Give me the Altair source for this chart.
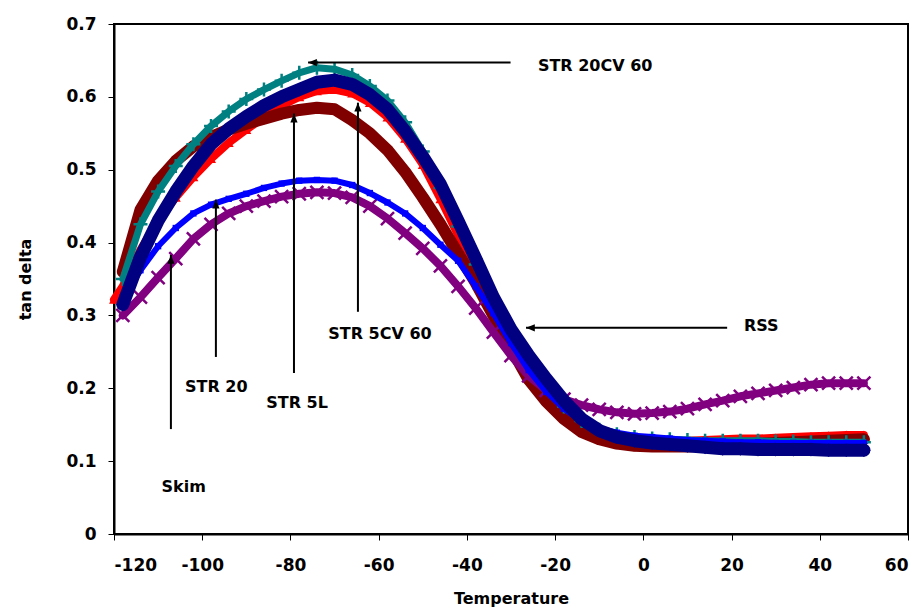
import altair as alt
import pandas as pd

# ---------------- data ----------------
temps = [-120, -118, -114, -110, -106, -102, -98, -94, -90, -86, -82, -78, -74, -70,
         -66, -62, -58, -54, -50, -46, -42, -38, -34, -30, -26, -22, -18, -14, -10,
         -6, -2, 2, 6, 10, 14, 18, 22, 26, 30, 34, 38, 42, 46, 50]

str_5cv_60 = [0.322, 0.34, 0.39, 0.43, 0.462, 0.49, 0.515, 0.537, 0.555, 0.572, 0.588, 0.6, 0.608, 0.61,
              0.605, 0.592, 0.572, 0.543, 0.507, 0.46, 0.41, 0.36, 0.31, 0.265, 0.23, 0.2, 0.173, 0.153, 0.141,
              0.134, 0.13, 0.128, 0.128, 0.128, 0.129, 0.13, 0.131, 0.131, 0.132, 0.133, 0.134, 0.135, 0.136, 0.136]

str_5l = [None, 0.36, 0.445, 0.485, 0.512, 0.532, 0.545, 0.555, 0.563, 0.57, 0.577, 0.582, 0.585, 0.583,
          0.568, 0.55, 0.527, 0.497, 0.462, 0.425, 0.385, 0.345, 0.3, 0.255, 0.212, 0.182, 0.158, 0.14, 0.13,
          0.124, 0.121, 0.12, 0.12, 0.12, 0.121, 0.122, 0.123, 0.124, 0.125, 0.126, 0.127, 0.128, 0.129, 0.13]

str_20cv_60 = [None, 0.35, 0.425, 0.47, 0.505, 0.535, 0.56, 0.58, 0.597, 0.61, 0.622, 0.633, 0.64, 0.638,
               0.63, 0.615, 0.595, 0.565, 0.525, 0.475, 0.422, 0.37, 0.318, 0.272, 0.235, 0.203, 0.175, 0.155, 0.143,
               0.137, 0.133, 0.131, 0.13, 0.129, 0.128, 0.128, 0.128, 0.128, 0.127, 0.127, 0.126, 0.126, 0.126, 0.126]

skim = [None, 0.30, 0.325, 0.352, 0.378, 0.405, 0.425, 0.44, 0.45, 0.457, 0.463, 0.467, 0.469, 0.468,
        0.462, 0.45, 0.433, 0.413, 0.392, 0.368, 0.34, 0.31, 0.277, 0.245, 0.217, 0.197, 0.185, 0.177, 0.171,
        0.167, 0.165, 0.166, 0.168, 0.172, 0.178, 0.183, 0.189, 0.193, 0.197, 0.201, 0.205, 0.207, 0.207, 0.207]

str_20 = [None, 0.325, 0.362, 0.395, 0.42, 0.44, 0.452, 0.46, 0.467, 0.475, 0.481, 0.485, 0.486, 0.485,
          0.479, 0.468, 0.455, 0.44, 0.42, 0.397, 0.375, 0.34, 0.303, 0.262, 0.225, 0.195, 0.172, 0.155, 0.145,
          0.139, 0.135, 0.133, 0.131, 0.129, 0.128, 0.127, 0.126, 0.126, 0.125, 0.125, 0.125, 0.125, 0.125, 0.125]

rss = [None, 0.315, 0.38, 0.43, 0.47, 0.505, 0.535, 0.556, 0.573, 0.588, 0.6, 0.61, 0.62, 0.623,
       0.617, 0.603, 0.583, 0.553, 0.518, 0.48, 0.43, 0.378, 0.325, 0.281, 0.245, 0.213, 0.183, 0.158, 0.142,
       0.133, 0.128, 0.125, 0.123, 0.121, 0.119, 0.117, 0.117, 0.116, 0.116, 0.116, 0.116, 0.115, 0.115, 0.115]

# drawing order: bottom -> top
series_names = ["STR 5CV 60", "STR 5L", "STR 20CV 60", "Skim", "STR 20", "RSS"]
series_values = [str_5cv_60, str_5l, str_20cv_60, skim, str_20, rss]
series_colors = ["#FF0000", "#800000", "#008080", "#800080", "#0000FF", "#000080"]

# annotations
arrow_labels = ["STR 20CV 60", "RSS", "STR 5CV 60", "STR 5L", "STR 20", "Skim"]
arrow_dir = ["left", "left", "up", "up", "up", "up"]
arrow_tip_t = [-76.0, -26.6, -64.7, -79.2, -96.9, -107.1]
arrow_tip_v = [0.647, 0.283, 0.592, 0.577, 0.459, 0.383]
arrow_tail_t = [-30.1, 19.0, -64.7, -79.2, -96.9, -107.1]
arrow_tail_v = [0.647, 0.283, 0.305, 0.221, 0.243, 0.144]
label_t = [-23.9, 22.8, -59.7, -78.5, -96.8, -104.2]
label_v = [0.643, 0.285, 0.274, 0.180, 0.202, 0.064]
label_align = ["left", "left", "center", "center", "center", "center"]

x_ticks = [-120, -100, -80, -60, -40, -20, 0, 20, 40, 60]
y_ticks = [0, 0.1, 0.2, 0.3, 0.4, 0.5, 0.6, 0.7]

# ---------------- build ----------------
rows = []
for name, vals in zip(series_names, series_values):
    for t, v in zip(temps, vals):
        if v is not None:
            rows.append({"series": name, "temp": t, "val": v})
df = pd.DataFrame(rows)

arrows = pd.DataFrame({
    "label": arrow_labels, "dir": arrow_dir,
    "temp": arrow_tip_t, "val": arrow_tip_v,
    "temp2": arrow_tail_t, "val2": arrow_tail_v,
})
labels = pd.DataFrame({
    "label": arrow_labels, "temp": label_t, "val": label_v, "align": label_align,
})

FONT = "DejaVu Sans"
X = alt.X("temp:Q", scale=alt.Scale(domain=[-120, 60], nice=False, zero=False),
          axis=alt.Axis(values=x_ticks, title="Temperature", labelExpr="'' + datum.value",
                        labelPadding=17, titleY=64, titleBaseline="middle"))
Y = alt.Y("val:Q", scale=alt.Scale(domain=[0, 0.7], nice=False, zero=False),
          axis=alt.Axis(values=y_ticks, title="tan delta", format=".1~f",
                        labelPadding=12, titleX=-89, titleY=255, titleBaseline="middle"))

PLUS = "M-1,0L1,0M0,-1L0,1"
XSHAPE = "M-1,-1L1,1M-1,1L1,-1"
styles = {
    "STR 5CV 60": dict(lw=8, shape="triangle-up", size=100, filled=True),
    "STR 5L": dict(lw=12, shape="circle", size=120, filled=True),
    "STR 20CV 60": dict(lw=7, shape=PLUS, size=196, filled=False),
    "Skim": dict(lw=8, shape=XSHAPE, size=170, filled=False),
    "STR 20": dict(lw=6, shape="square", size=40, filled=True),
    "RSS": dict(lw=13, shape="diamond", size=190, filled=True),
}

layers = []
for name, col in zip(series_names, series_colors):
    st = styles[name]
    base = alt.Chart(df[df["series"] == name])
    layers.append(base.mark_line(color=col, strokeWidth=st["lw"], strokeJoin="round",
                                 strokeCap="round").encode(x=X, y=Y))
    if st["filled"]:
        pm = base.mark_point(shape=st["shape"], size=st["size"], filled=True,
                             color=col, opacity=1)
    else:
        pm = base.mark_point(shape=st["shape"], size=st["size"], filled=False,
                             stroke=col, strokeWidth=2.5, opacity=1)
    layers.append(pm.encode(x=X, y=Y))

arb = alt.Chart(arrows)
layers.append(arb.mark_rule(color="black", strokeWidth=2).encode(
    x=X, y=Y, x2="temp2:Q", y2="val2:Q"))
layers.append(arb.transform_filter(alt.datum.dir == "up").mark_point(
    shape="M0,0L-0.9,2.2L0.9,2.2Z", size=64, filled=True, color="black", opacity=1
).encode(x=X, y=Y))
layers.append(arb.transform_filter(alt.datum.dir == "left").mark_point(
    shape="M0,0L2.2,-0.9L2.2,0.9Z", size=64, filled=True, color="black", opacity=1
).encode(x=X, y=Y))
lab = alt.Chart(labels)
layers.append(lab.transform_filter(alt.datum.align == "left").mark_text(
    align="left", baseline="middle", font=FONT, fontSize=16, fontWeight="bold", color="black"
).encode(x=X, y=Y, text="label:N"))
layers.append(lab.transform_filter(alt.datum.align == "center").mark_text(
    align="center", baseline="middle", font=FONT, fontSize=16, fontWeight="bold", color="black"
).encode(x=X, y=Y, text="label:N"))

chart = alt.layer(*layers).properties(
    width=794, height=510,
    padding={"left": 114, "top": 24, "right": 15, "bottom": 76},
    autosize=alt.AutoSizeParams(type="none"),
    background="white",
).configure_view(
    stroke="black", strokeWidth=2
).configure_axis(
    grid=False, domainColor="black", domainWidth=2, tickColor="black", tickSize=6, tickWidth=1,
    labelFont=FONT, labelFontSize=17, labelFontWeight="bold", labelColor="black",
    titleFont=FONT, titleFontSize=16, titleFontWeight="bold", titleColor="black",
)

chart.save("out.html", embed_options={"renderer": "svg", "actions": False})
